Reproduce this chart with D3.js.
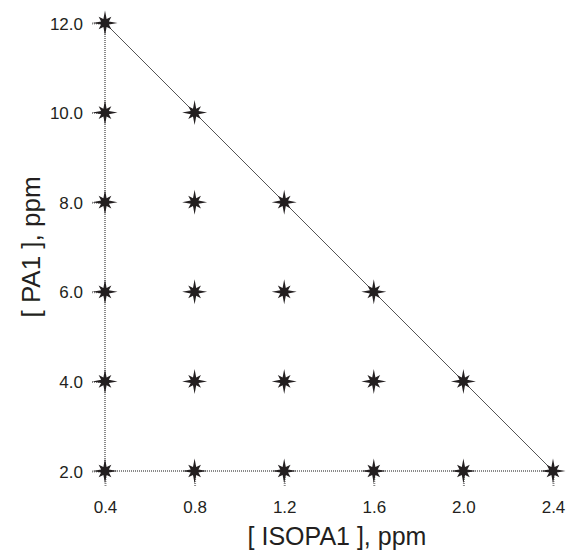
<!DOCTYPE html>
<html>
<head>
<meta charset="utf-8">
<script src="https://cdn.jsdelivr.net/npm/d3@7"></script>
<style>
  body { margin: 0; background: #fff; }
  text { font-family: "Liberation Sans", Arial, sans-serif; fill: #231f20; }
</style>
</head>
<body>
<script>
// design points: [ISOPA1] (ppm) vs [PA1] (ppm)
const isoValues = [0.4, 0.4, 0.4, 0.4, 0.4, 0.4, 0.8, 0.8, 0.8, 0.8, 0.8, 1.2, 1.2, 1.2, 1.2, 1.6, 1.6, 1.6, 2.0, 2.0, 2.4];
const pa1Values = [2, 4, 6, 8, 10, 12, 2, 4, 6, 8, 10, 2, 4, 6, 8, 2, 4, 6, 2, 4, 2];
const xTicks = [0.4, 0.8, 1.2, 1.6, 2.0, 2.4];
const yTicks = [2, 4, 6, 8, 10, 12];
// boundary line of the triangle
const edgeX = [0.4, 2.4];
const edgeY = [12, 2];

const W = 569, H = 552;
const svg = d3.select("body").append("svg").attr("width", W).attr("height", H);

const x = d3.scaleLinear().domain([0.4, 2.4]).range([105, 553]);
const y = d3.scaleLinear().domain([2, 12]).range([471, 23]);

const grey = "#8a8a8a";
const ink = "#231f20";

// dotted axis lines
svg.append("line")
    .attr("x1", x(0.4)).attr("x2", x(2.4))
    .attr("y1", y(2)).attr("y2", y(2))
    .attr("stroke", grey).attr("stroke-width", 2).attr("stroke-dasharray", "1,1");
svg.append("line")
    .attr("x1", x(0.4)).attr("x2", x(0.4))
    .attr("y1", y(2)).attr("y2", y(12))
    .attr("stroke", grey).attr("stroke-width", 2).attr("stroke-dasharray", "1,1");

// hypotenuse
svg.append("line")
    .attr("x1", x(edgeX[0])).attr("y1", y(edgeY[0]))
    .attr("x2", x(edgeX[1])).attr("y2", y(edgeY[1]))
    .attr("stroke", "#555").attr("stroke-width", 1);

// axes (ticks only)
const xAxis = svg.append("g")
    .attr("transform", `translate(0,${y(2)})`)
    .call(d3.axisBottom(x).tickValues(xTicks).tickFormat(d3.format(".1f")).tickSize(16).tickPadding(14));
const yAxis = svg.append("g")
    .attr("transform", `translate(${x(0.4)},0)`)
    .call(d3.axisLeft(y).tickValues(yTicks).tickFormat(d3.format(".1f")).tickSize(14).tickPadding(8));
[xAxis, yAxis].forEach(g => {
    g.select(".domain").remove();
    g.selectAll(".tick line").attr("stroke", grey).attr("stroke-width", 2).attr("stroke-dasharray", "1,1");
    g.selectAll(".tick text").style("font-size", "17px").style("fill", ink)
        .style("font-family", "'Liberation Sans', Arial, sans-serif");
});
yAxis.selectAll(".tick text").attr("dy", "0.36em");

// 8-point star marker
function starPath(rLong, rShort, rIn) {
    const pts = [];
    for (let i = 0; i < 16; i++) {
        const a = i * Math.PI / 8 - Math.PI / 2;
        let r;
        if (i % 2 === 1) r = rIn;
        else r = (i % 4 === 0) ? rLong : rShort;
        pts.push([r * Math.cos(a), r * Math.sin(a)]);
    }
    return "M" + pts.map(p => p[0].toFixed(2) + "," + p[1].toFixed(2)).join("L") + "Z";
}
const star = starPath(12.5, 9, 4.2);

svg.append("g").selectAll("path")
    .data(isoValues.map((v, i) => ({iso: v, pa: pa1Values[i]})))
    .enter().append("path")
    .attr("d", star)
    .attr("transform", d => `translate(${x(d.iso)},${y(d.pa)})`)
    .attr("fill", ink);

// axis titles
svg.append("text")
    .attr("x", 337).attr("y", 545)
    .attr("text-anchor", "middle")
    .style("font-size", "25px")
    .text("[ ISOPA1 ], ppm");
svg.append("text")
    .attr("transform", `translate(40,247) rotate(-90)`)
    .attr("text-anchor", "middle")
    .style("font-size", "26px")
    .text("[ PA1 ], ppm");
</script>
</body>
</html>
